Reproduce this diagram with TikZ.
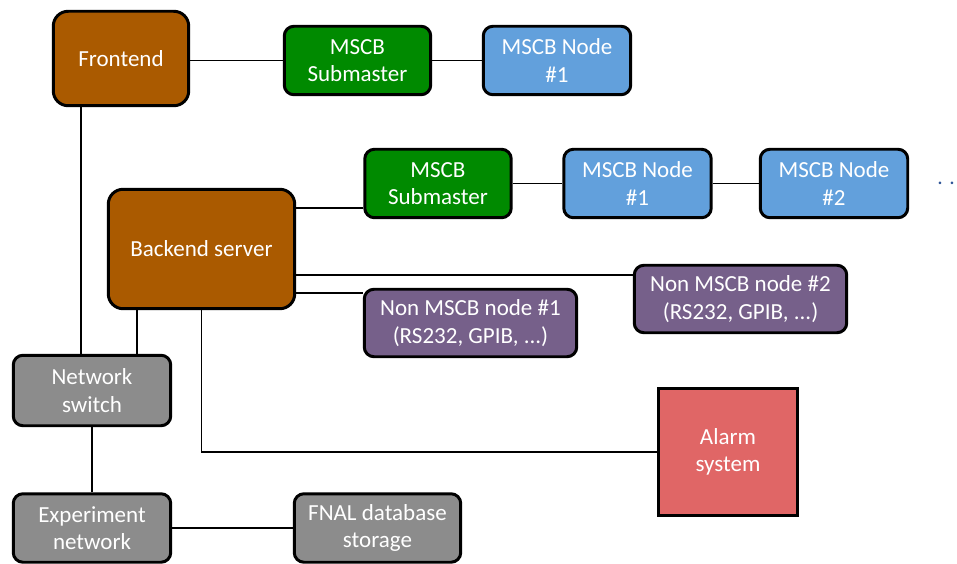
\documentclass[tikz,border=0pt]{standalone}
\usepackage{fontspec}
\setmainfont{Carlito}
\usetikzlibrary{calc}
\definecolor{servercol}{RGB}{170,90,0}
\definecolor{submastercol}{RGB}{0,138,0}
\definecolor{mscbcol}{RGB}{98,160,220}
\definecolor{othercol}{RGB}{118,96,138}
\definecolor{netcol}{RGB}{140,140,140}
\definecolor{alarmcol}{RGB}{224,102,102}
\definecolor{dotcol}{RGB}{47,85,151}

\begin{document}
\begin{tikzpicture}[
    x=0.02cm, y=-0.02cm,
    box/.style={draw=black, line width=1.7pt, rounded corners=5.5pt, text=white,
        align=center, inner sep=0pt, font=\fontsize{13.1}{15.5}\selectfont},
    server/.style={box, fill=servercol, rounded corners=8.5pt},
    submaster/.style={box, fill=submastercol, minimum width=2.93cm, minimum height=1.37cm},
    mscbnode/.style={box, fill=mscbcol, minimum width=2.95cm, minimum height=1.37cm},
    othernode/.style={box, fill=othercol, minimum width=4.25cm, minimum height=1.35cm},
    netbox/.style={box, fill=netcol, minimum height=1.37cm},
    link/.style={line width=1.1pt},
]

\path[use as bounding box] (0,0) rectangle (957,564);

% ════════════════════════════════════════════════════════
% 1. SERVERS
% ════════════════════════════════════════════════════════
\node[server, minimum width=2.71cm, minimum height=1.89cm] (front) at (121, 58.5) {Frontend};
\node[server, minimum width=3.73cm, minimum height=2.39cm] (backend) at (201.5, 249) {Backend server};

% ════════════════════════════════════════════════════════
% 2. MSCB CHAINS
% ════════════════════════════════════════════════════════
\node[submaster] (subA) at (357.5, 60.5) {MSCB\\Submaster};
\node[mscbnode]  (nodeA1) at (557, 60.5) {MSCB Node\\\#1};

\node[submaster] (subB) at (438, 183.5) {MSCB\\Submaster};
\node[mscbnode]  (nodeB1) at (637.5, 183.5) {MSCB Node\\\#1};
\node[mscbnode]  (nodeB2) at (834, 183.5) {MSCB Node\\\#2};
\node[text=dotcol, anchor=base west, inner sep=0pt, font=\fontsize{12.3}{15.5}\selectfont]
    (more) at (937, 185) {. .};

% ════════════════════════════════════════════════════════
% 3. OTHER DEVICES
% ════════════════════════════════════════════════════════
\node[othernode] (nonA) at (470.5, 323) {Non MSCB node \#1\\(RS232, GPIB, ...)};
\node[othernode] (nonB) at (740.5, 299) {Non MSCB node \#2\\(RS232, GPIB, ...)};
\node[box, rounded corners=0pt, fill=alarmcol, minimum width=2.79cm, minimum height=2.55cm]
    (alarm) at (728, 452) {Alarm\\system};

% ════════════════════════════════════════════════════════
% 4. NETWORK
% ════════════════════════════════════════════════════════
\node[netbox, minimum width=3.15cm, minimum height=1.41cm] (switch) at (92, 390.5) {Network\\switch};
\node[netbox, minimum width=3.15cm] (expnet) at (92, 528) {Experiment\\network};
\node[netbox, minimum width=3.33cm] (fnal) at (377.5, 528) {FNAL database\\storage};

% ════════════════════════════════════════════════════════
% 5. LINKS
% ════════════════════════════════════════════════════════
\coordinate (frontdrop) at ($(front.south)+(-40,0)$);
\coordinate (backdrop)  at ($(backend.south)+(-64.5,0)$);
\coordinate (subBin)    at ($(subB.west)+(0,24.5)$);
\coordinate (nonBin)    at ($(nonB.west)+(0,-24)$);
\coordinate (nonAin)    at ($(nonA.west)+(0,-30)$);

\draw[link] (subA.west -| front.east) -- (subA.west);
\draw[link] (subA) -- (nodeA1);
\draw[link] (frontdrop) -- (frontdrop |- switch.north);
\draw[link] (backdrop) -- (backdrop |- switch.north);

\draw[link] (subBin -| backend.east) -- (subBin);
\draw[link] (subB) -- (nodeB1);
\draw[link] (nodeB1) -- (nodeB2);
\draw[link] (nonBin -| backend.east) -- (nonBin);
\draw[link] (nonAin -| backend.east) -- (nonAin);
\draw[link] (backend.south) |- (alarm.west);

\draw[link] (switch) -- (expnet);
\draw[link] (expnet) -- (fnal);

\end{tikzpicture}
\end{document}
